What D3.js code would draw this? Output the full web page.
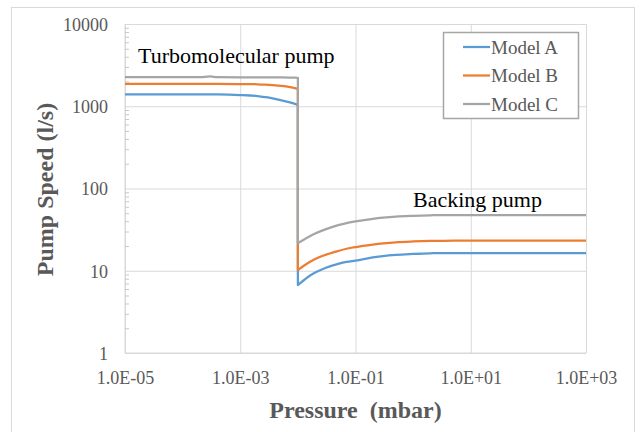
<!DOCTYPE html>
<html>
<head>
<meta charset="utf-8">
<script src="https://cdn.jsdelivr.net/npm/d3@7"></script>
<style>
  html, body { margin: 0; padding: 0; background: #fff; }
  svg { display: block; }
</style>
</head>
<body>
<svg id="chart" width="640" height="432"></svg>
<script>
// ---------- data ----------
const seriesNames = ["Model A", "Model B", "Model C"];
const seriesColors = ["#5b9bd5", "#ed7d31", "#a5a5a5"];

const pressureTurbo = [1e-5, 1e-4, 2e-4, 3e-4, 4e-4, 1e-3, 2e-3, 3e-3, 5e-3, 7e-3, 1e-2];
const modelATurbo = [1390, 1390, 1390, 1390, 1390, 1370, 1330, 1280, 1190, 1120, 1040];
const modelBTurbo = [1870, 1870, 1870, 1870, 1870, 1860, 1850, 1820, 1770, 1720, 1630];
const modelCTurbo = [2260, 2260, 2260, 2305, 2260, 2250, 2250, 2245, 2240, 2235, 2220];

const pressureBacking = [1e-2, 1.5e-2, 2e-2, 3e-2, 5e-2, 7e-2, 0.1, 0.2, 0.3, 0.5, 1, 2, 3, 5, 10, 100, 1000];
const modelABacking = [6.7, 8.4, 9.5, 10.8, 12.1, 12.8, 13.3, 14.5, 15.1, 15.6, 16.0, 16.3, 16.4, 16.4, 16.4, 16.4, 16.4];
const modelBBacking = [10.2, 12.4, 13.9, 15.6, 17.4, 18.5, 19.4, 20.8, 21.5, 22.2, 22.7, 23.0, 23.1, 23.2, 23.2, 23.2, 23.2];
const modelCBacking = [21.6, 25.5, 28.3, 31.8, 35.8, 38.0, 39.8, 42.8, 44.2, 45.6, 46.6, 47.2, 47.5, 47.6, 47.6, 47.6, 47.6];

const yTicks = [1, 10, 100, 1000, 10000];
const yTickLabels = ["1", "10", "100", "1000", "10000"];
const xTicks = [1e-5, 1e-3, 1e-1, 1e1, 1e3];
const xTickLabels = ["1.0E-05", "1.0E-03", "1.0E-01", "1.0E+01", "1.0E+03"];

const turboSets = [modelATurbo, modelBTurbo, modelCTurbo];
const backingSets = [modelABacking, modelBBacking, modelCBacking];

// ---------- layout ----------
const FONT = '"Liberation Serif"';
const svg = d3.select("#chart").style("font-family", FONT);
const L = 125, R = 586, T = 24, B = 353;
const textGrey = "#595959";
const gridGrey = "#d9d9d9";

// outer chart border
svg.append("rect").attr("x", 11.5).attr("y", 7.5).attr("width", 623).attr("height", 440)
  .attr("fill", "#fff").attr("stroke", gridGrey).attr("stroke-width", 1);

const x = d3.scaleLog().domain([1e-5, 1e3]).range([L, R]);
const y = d3.scaleLog().domain([1, 10000]).range([B, T]);

// gridlines
const gx = svg.append("g").attr("transform", `translate(0,${B})`)
  .call(d3.axisBottom(x).tickValues(xTicks).tickSize(-(B - T)).tickFormat(""));
gx.select(".domain").remove();
gx.selectAll("line").attr("stroke", gridGrey).attr("stroke-width", 1);

const gy = svg.append("g").attr("transform", `translate(${L},0)`)
  .call(d3.axisLeft(y).tickValues(yTicks).tickSize(-(R - L)).tickFormat(""));
gy.select(".domain").remove();
gy.selectAll("line").attr("stroke", gridGrey).attr("stroke-width", 1);

// axis lines
svg.append("line").attr("x1", L).attr("x2", L).attr("y1", T).attr("y2", B)
  .attr("stroke", gridGrey).attr("stroke-width", 1);
svg.append("line").attr("x1", L).attr("x2", R).attr("y1", B).attr("y2", B)
  .attr("stroke", gridGrey).attr("stroke-width", 1);

// minor ticks on y axis (inside)
const minorVals = [];
for (let k = 0; k < 4; k++) for (let m = 2; m <= 9; m++) minorVals.push(m * Math.pow(10, k));
const gm = svg.append("g").attr("transform", `translate(${L},0)`)
  .call(d3.axisRight(y).tickValues(minorVals).tickSize(4).tickFormat(""));
gm.select(".domain").remove();
gm.selectAll("line").attr("stroke", "#c8c8c8").attr("stroke-width", 1);

// y tick labels
const yl = svg.append("g").attr("transform", `translate(${L},0)`)
  .call(d3.axisLeft(y).tickValues(yTicks).tickSize(0).tickPadding(17)
    .tickFormat((d, i) => yTickLabels[i]));
yl.attr("font-family", null).attr("font-size", null);
yl.select(".domain").remove();
yl.selectAll("text").style("font-family", FONT).style("font-size", "18px")
  .attr("fill", textGrey).attr("dy", "0.35em");

// x tick labels
const xl = svg.append("g").attr("transform", `translate(0,${B})`)
  .call(d3.axisBottom(x).tickValues(xTicks).tickSize(0).tickPadding(18)
    .tickFormat((d, i) => xTickLabels[i]));
xl.attr("font-family", null).attr("font-size", null);
xl.select(".domain").remove();
xl.selectAll("text").style("font-family", FONT).style("font-size", "18px")
  .attr("fill", textGrey).attr("dy", "0.71em");

// axis titles
svg.append("text").attr("x", (L + R) / 2).attr("y", 418).attr("text-anchor", "middle")
  .style("font-family", FONT).style("font-size", "24px").attr("font-weight", "bold").attr("fill", textGrey)
  .style("white-space", "pre")
  .text("Pressure  (mbar)");
svg.append("text").attr("transform", `translate(53,${(T + B) / 2 + 1}) rotate(-90)`)
  .attr("text-anchor", "middle")
  .style("font-family", FONT).style("font-size", "24px").attr("font-weight", "bold").attr("fill", textGrey)
  .text("Pump Speed (l/s)");

// series lines
const line = d3.line().x(d => x(d[0])).y(d => y(d[1])).curve(d3.curveMonotoneX);
seriesNames.forEach((name, i) => {
  const turbo = pressureTurbo.map((p, j) => [p, turboSets[i][j]]);
  const back = pressureBacking.map((p, j) => [p, backingSets[i][j]]);
  const d = line(turbo) + line(back).replace(/^M/, "L");
  svg.append("path").attr("d", d).attr("fill", "none")
    .attr("stroke", seriesColors[i]).attr("stroke-width", 2.25)
    .attr("stroke-linejoin", "round");
});

// annotations
svg.append("text").attr("x", 138).attr("y", 63).style("font-family", FONT).style("font-size", "22px")
  .attr("fill", "#000").text("Turbomolecular pump");
svg.append("text").attr("x", 413).attr("y", 207).style("font-family", FONT).style("font-size", "22px")
  .attr("fill", "#000").text("Backing pump");

// legend
const lg = svg.append("g");
lg.append("rect").attr("x", 443.5).attr("y", 32.5).attr("width", 135).attr("height", 86)
  .attr("fill", "#fff").attr("stroke", "#a6a6a6").attr("stroke-width", 1.5);
const legendY = d3.scalePoint().domain(seriesNames).range([47, 104]);
seriesNames.forEach((name, i) => {
  const yy = legendY(name);
  lg.append("line").attr("x1", 463).attr("x2", 490).attr("y1", yy).attr("y2", yy)
    .attr("stroke", seriesColors[i]).attr("stroke-width", 2.25);
  lg.append("text").attr("x", 491).attr("y", yy).attr("dy", "0.35em")
    .style("font-family", FONT).style("font-size", "19px").attr("fill", textGrey).text(name);
});
</script>
</body>
</html>
